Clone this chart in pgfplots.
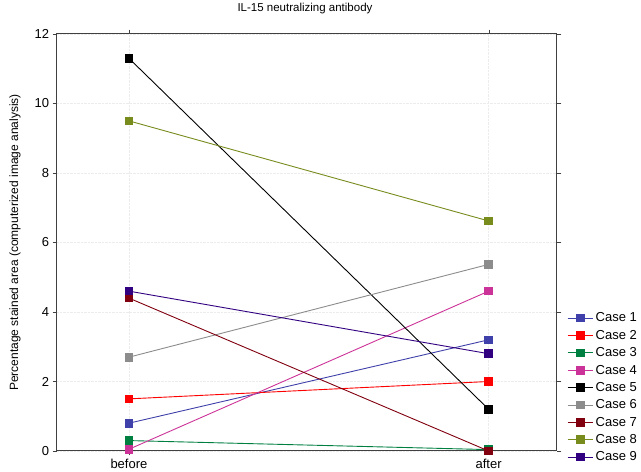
\documentclass[border=0pt]{standalone}
\usepackage{pgfplots}
\pgfplotsset{compat=1.18}
\usepackage{fontspec}
\setmainfont{Liberation Sans}
\definecolor{c1}{RGB}{64,64,170}
\definecolor{c2}{RGB}{255,0,0}
\definecolor{c3}{RGB}{0,128,64}
\definecolor{c4}{RGB}{204,51,153}
\definecolor{c5}{RGB}{0,0,0}
\definecolor{c6}{RGB}{140,140,140}
\definecolor{c7}{RGB}{128,0,16}
\definecolor{c8}{RGB}{120,140,30}
\definecolor{c9}{RGB}{48,0,128}
\begin{document}
\begin{tikzpicture}
\useasboundingbox (-57pt,-21pt) rectangle (584pt,451pt);
\begin{axis}[
  at={(0pt,0pt)}, anchor=south west,
  scale only axis, width=500pt, height=417pt,
  xmin=-0.2, xmax=1.19, ymin=0, ymax=12,
  xtick={0,1}, xticklabels={before,after},
  ytick={0,2,4,6,8,10,12},
  grid=major, grid style={densely dotted, gray!15},
  axis line style={black!75, line width=1pt},
  tick style={black!75},
  tick align=outside,
  /pgf/number format/assume math mode=true,
  tick label style={font=\fontsize{13}{15}\selectfont},
  title={IL-15 neutralizing antibody},
  title style={font=\fontsize{11.5}{13}\selectfont, at={(axis description cs:0.5,1)}, anchor=center, yshift=19pt, xshift=-2pt},
  ylabel={Percentage stained area (computerized image analysis)},
  ylabel style={font=\fontsize{12}{13}\selectfont, at={(axis description cs:-0.084,0.5)}, anchor=center},
  legend style={draw=none, fill=none, at={(1.018,-0.035)}, anchor=south west, font=\fontsize{13}{15}\selectfont, row sep=2.8pt, inner sep=1pt},
  legend cell align=left,
  legend image code/.code={\draw[mark repeat=2,mark phase=2] plot coordinates {(0cm,0cm) (0.45cm,0cm) (0.9cm,0cm)};},
  every axis plot/.append style={line width=0.9pt, mark=square*, mark size=3.8pt},
]
\addplot[c1, mark options={fill=c1}] coordinates {(0,0.8) (1,3.2)};
\addlegendentry{Case 1}
\addplot[c2, mark options={fill=c2}] coordinates {(0,1.5) (1,2.0)};
\addlegendentry{Case 2}
\addplot[c3, mark options={fill=c3}] coordinates {(0,0.3) (1,0.04)};
\addlegendentry{Case 3}
\addplot[c4, mark options={fill=c4}] coordinates {(0,0.05) (1,4.6)};
\addlegendentry{Case 4}
\addplot[c5, mark options={fill=c5}] coordinates {(0,11.3) (1,1.2)};
\addlegendentry{Case 5}
\addplot[c6, mark options={fill=c6}] coordinates {(0,2.7) (1,5.37)};
\addlegendentry{Case 6}
\addplot[c7, mark options={fill=c7}] coordinates {(0,4.4) (1,0.0)};
\addlegendentry{Case 7}
\addplot[c8, mark options={fill=c8}] coordinates {(0,9.5) (1,6.62)};
\addlegendentry{Case 8}
\addplot[c9, mark options={fill=c9}] coordinates {(0,4.6) (1,2.8)};
\addlegendentry{Case 9}
\end{axis}
\end{tikzpicture}
\end{document}
